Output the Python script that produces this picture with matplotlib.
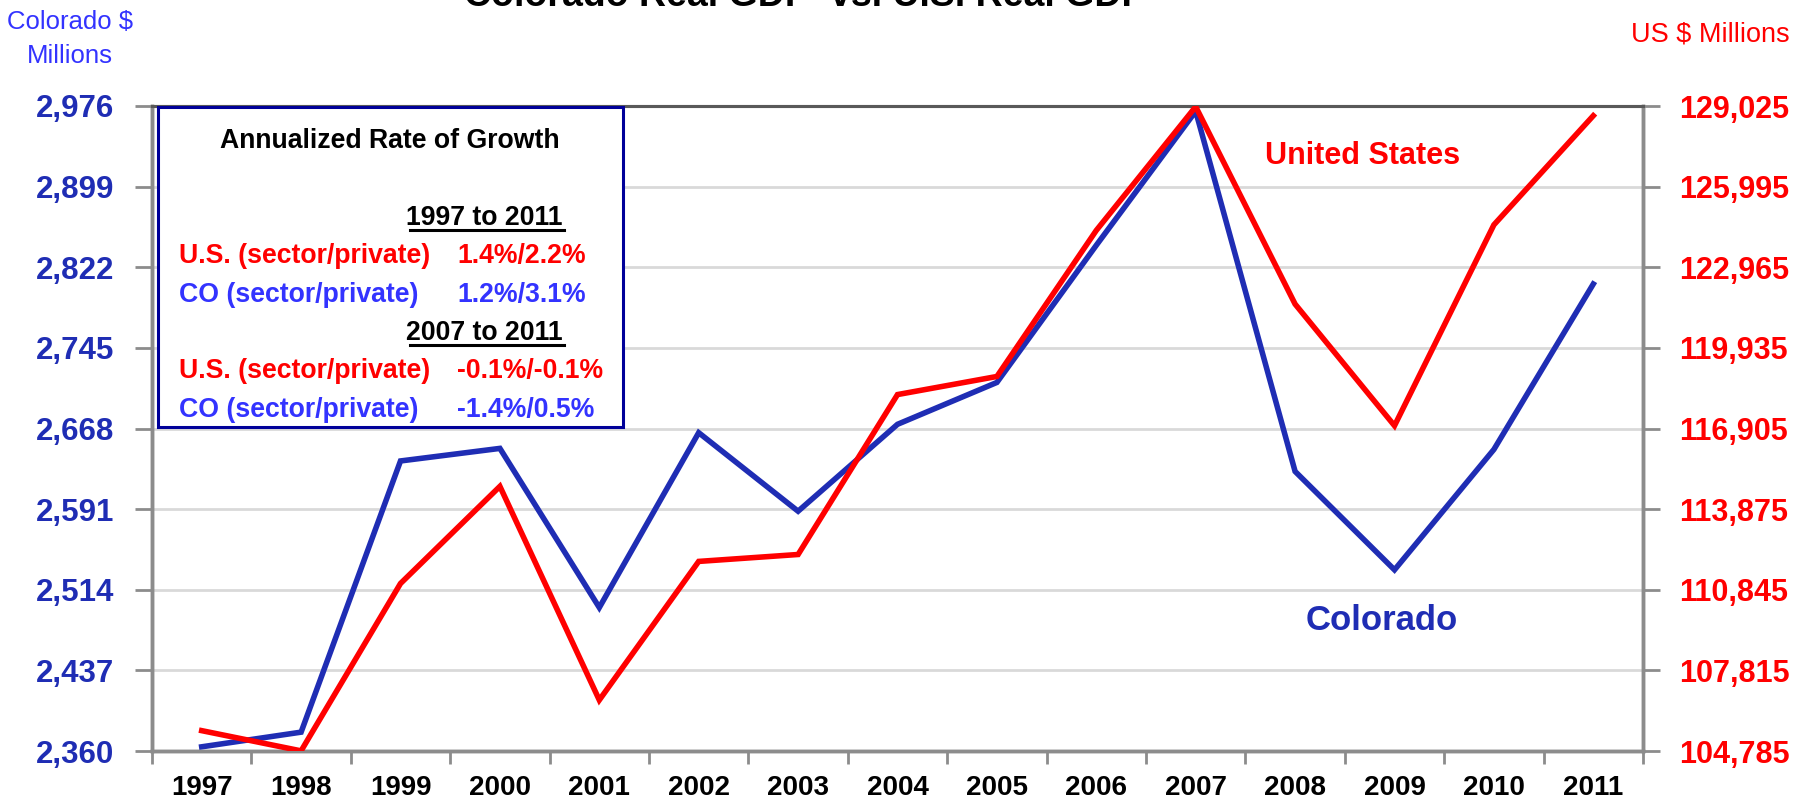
import matplotlib
matplotlib.use("Agg")
import matplotlib.pyplot as plt
from matplotlib.patches import Rectangle
from matplotlib.lines import Line2D
from matplotlib.ticker import FixedLocator, FuncFormatter

# ---------------- data ----------------
years = ["1997", "1998", "1999", "2000", "2001", "2002", "2003", "2004",
         "2005", "2006", "2007", "2008", "2009", "2010", "2011"]
colorado = [2364, 2378, 2637, 2649, 2497, 2664, 2589, 2672, 2712, 2843,
            2971, 2627, 2533, 2648, 2806]
us = [105550, 104790, 111080, 114730, 106700, 111910, 112170, 118180,
      118860, 124350, 129000, 121580, 117010, 124560, 128660]
left_ticks = [2360, 2437, 2514, 2591, 2668, 2745, 2822, 2899, 2976]
right_ticks = [104785, 107815, 110845, 113875, 116905, 119935, 122965, 125995, 129025]

title = "Colorado Real GDP  vs. U.S. Real GDP"
box_title = "Annualized Rate of Growth"
periods = ["1997 to 2011", "2007 to 2011"]
rows = [[("U.S. (sector/private)", "1.4%/2.2%"), ("CO (sector/private)", "1.2%/3.1%")],
        [("U.S. (sector/private)", "-0.1%/-0.1%"), ("CO (sector/private)", "-1.4%/0.5%")]]

# ---------------- style ----------------
W, H = 1798, 799
plt.rcParams["font.family"] = ["Liberation Sans", "DejaVu Sans"]
RED = "#ff0000"
BLUE_LINE = "#1f2db4"
BLUE_TXT = "#3333ff"
GRID = "#d9d9d9"
SPINE = "#8c8c8c"

fig = plt.figure(figsize=(W / 100, H / 100), dpi=100)
L, R, T, B = 152, 1643, 106, 751
ax = fig.add_axes([L / W, 1 - B / H, (R - L) / W, (B - T) / H])
ax2 = ax.twinx()

x = list(range(len(years)))
ax.plot(x, colorado, color=BLUE_LINE, lw=4.0, solid_joinstyle="miter", zorder=3)
ax2.plot(x, us, color=RED, lw=4.0, solid_joinstyle="miter", zorder=3)

ax.set_xlim(-0.5, len(years) - 0.5)
ax.set_ylim(left_ticks[0], left_ticks[-1])
ax2.set_ylim(right_ticks[0], right_ticks[-1])

ax.yaxis.set_major_locator(FixedLocator(left_ticks))
ax2.yaxis.set_major_locator(FixedLocator(right_ticks))
fmt = FuncFormatter(lambda v, p: f"{int(round(v)):,}")
ax.yaxis.set_major_formatter(fmt)
ax2.yaxis.set_major_formatter(fmt)

ax.set_xticks(x)
ax.set_xticklabels(years)
ax.set_xticks([i - 0.5 for i in range(len(years) + 1)], minor=True)
ax.tick_params(axis="x", which="major", length=0, pad=17, labelsize=20,
               labelcolor="black")
ax.tick_params(axis="x", which="minor", length=9, width=2, color=SPINE)
for lab in ax.get_xticklabels():
    lab.set_fontweight("bold")

ax.tick_params(axis="y", length=12, width=2, color=SPINE, pad=15,
               labelsize=22.5, labelcolor=BLUE_LINE)
ax2.tick_params(axis="y", length=12, width=2, color=SPINE, pad=14,
                labelsize=22, labelcolor=RED)
for lab in ax.get_yticklabels():
    lab.set_fontweight("bold")
for lab in ax2.get_yticklabels():
    lab.set_fontweight("bold")

ax.grid(axis="y", color=GRID, lw=2, zorder=0)
ax.set_axisbelow(True)
for a in (ax, ax2):
    for s in ("left", "right", "bottom"):
        a.spines[s].set_color(SPINE)
        a.spines[s].set_linewidth(2.5)
    a.spines["top"].set_color("#595959")
    a.spines["top"].set_linewidth(2.2)


def fx(px):
    return px / W


def fy(py):
    return 1 - py / H


# series labels
fig.text(fx(1363), fy(156), "United States", color=RED, fontsize=22,
         weight="bold", ha="center", va="center")
fig.text(fx(1382), fy(621), "Colorado", color=BLUE_LINE, fontsize=25,
         weight="bold", ha="center", va="center")

# axis titles
fig.text(fx(70), fy(22), "Colorado $", color=BLUE_TXT, fontsize=18.5,
         ha="center", va="center")
fig.text(fx(70), fy(56), "Millions", color=BLUE_TXT, fontsize=18.5,
         ha="center", va="center")
fig.text(fx(1710), fy(34), "US $ Millions", color=RED, fontsize=19.5,
         ha="center", va="center")

# chart title (cut at top as in source)
fig.text(fx(805), fy(6), title, color="black", fontsize=27, weight="bold",
         ha="center", va="baseline")

# growth box
box = Rectangle((fx(158), fy(427)), fx(623) - fx(158), fy(107) - fy(427),
                transform=fig.transFigure, facecolor="white",
                edgecolor="#000099", lw=2.2, zorder=10)
fig.add_artist(box)
fig.text(fx(390), fy(148), box_title, color="black", fontsize=19.2, weight="bold",
         ha="center", va="baseline", zorder=11)
base_y = [[225, 263, 302], [340, 378, 417]]
for k, period in enumerate(periods):
    yb = base_y[k]
    fig.text(fx(563), fy(yb[0]), period, color="black", fontsize=19.2,
             weight="bold", ha="right", va="baseline", zorder=11)
    fig.add_artist(Line2D([fx(410), fx(564)], [fy(yb[0] + 5), fy(yb[0] + 5)],
                          transform=fig.transFigure, color="black", lw=2.2,
                          zorder=11))
    for j, (lab, val) in enumerate(rows[k]):
        col = RED if j == 0 else BLUE_TXT
        fig.text(fx(179), fy(yb[j + 1]), lab, color=col, fontsize=19.2,
                 weight="bold", ha="left", va="baseline", zorder=11)
        fig.text(fx(457), fy(yb[j + 1]), val, color=col, fontsize=19.2,
                 weight="bold", ha="left", va="baseline", zorder=11)

fig.savefig("out.png", dpi=100)
